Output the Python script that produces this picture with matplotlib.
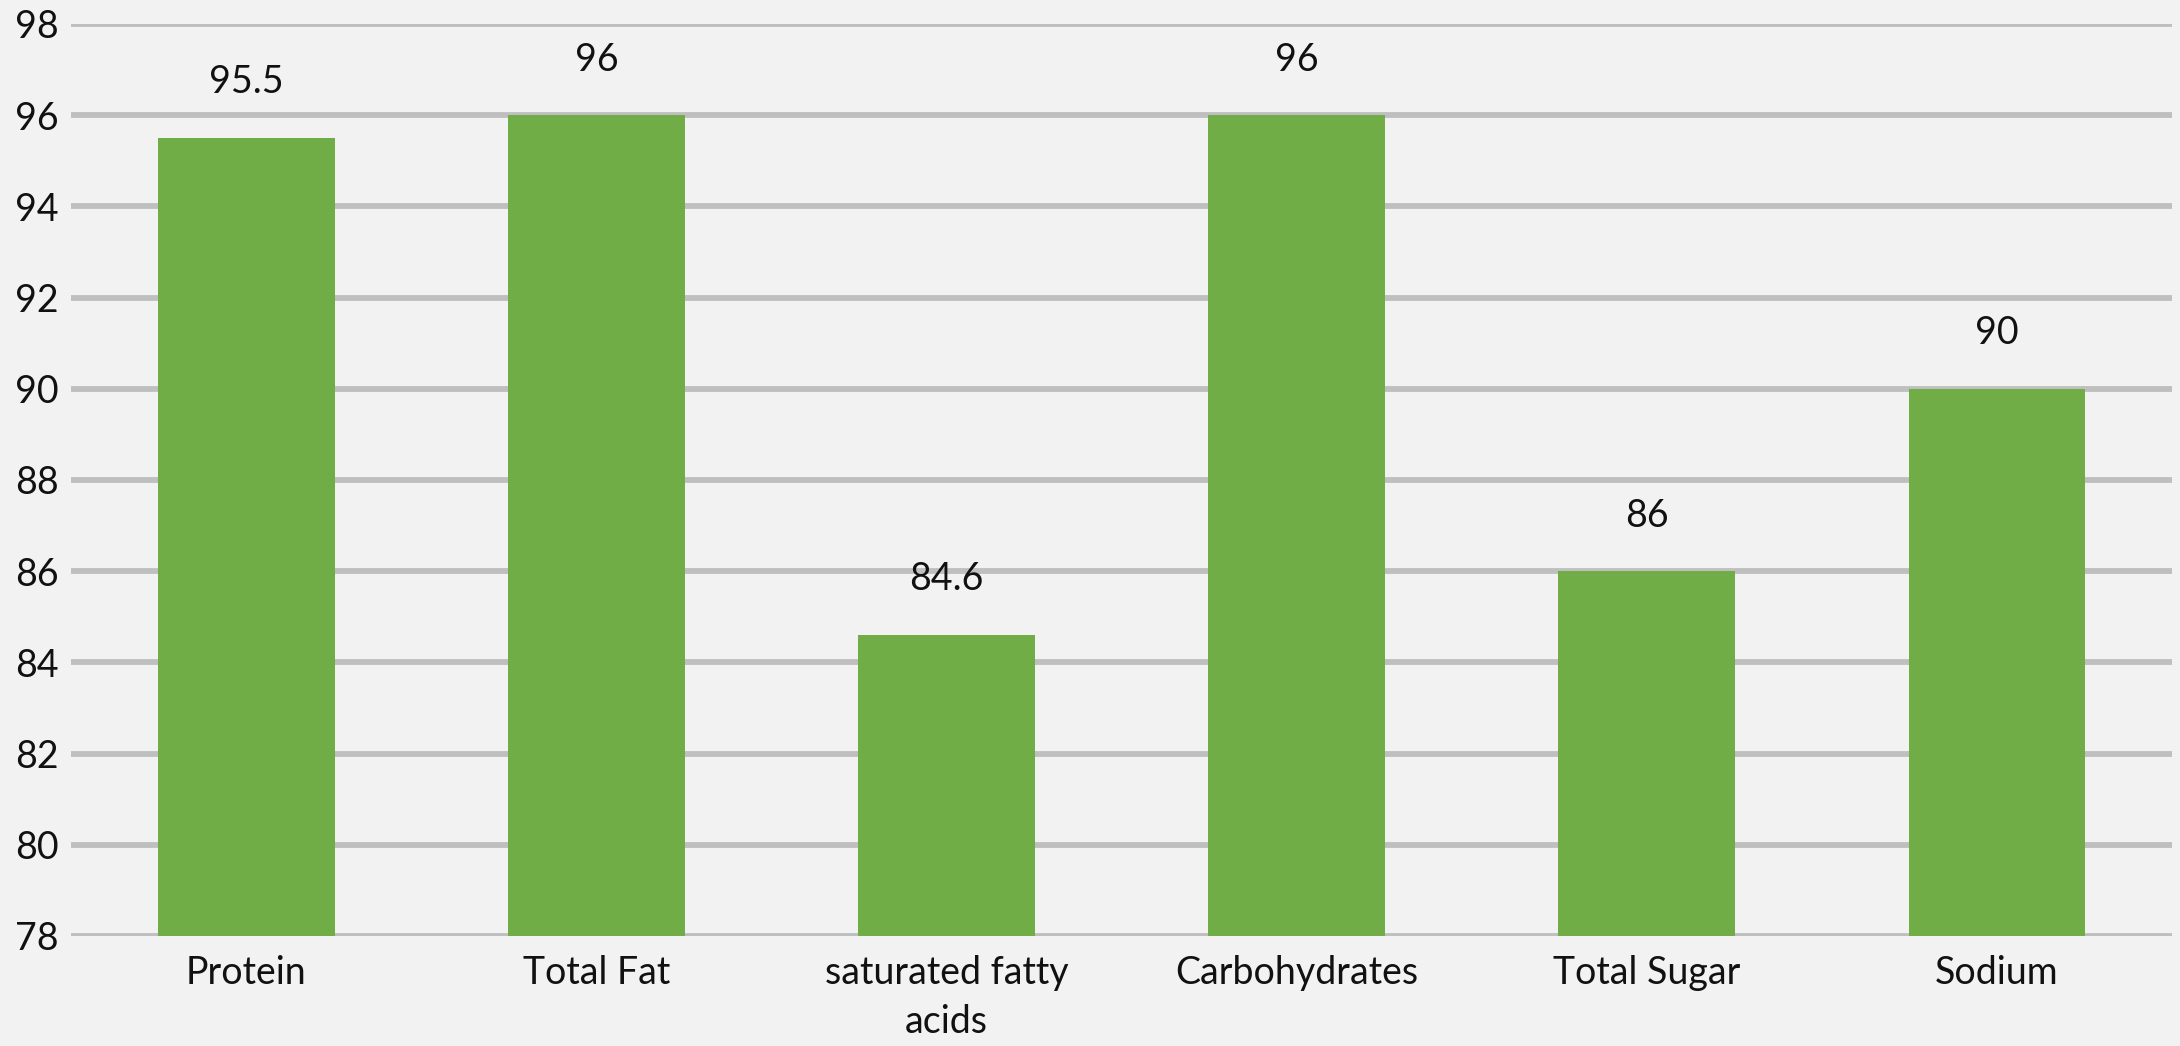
import matplotlib
matplotlib.use('Agg')
import matplotlib.pyplot as plt

categories = ['Protein', 'Total Fat', 'saturated fatty\nacids', 'Carbohydrates', 'Total Sugar', 'Sodium']
values = [95.5, 96, 84.6, 96, 86, 90]
value_labels = ['95.5', '96', '84.6', '96', '86', '90']
y_ticks = [78, 80, 82, 84, 86, 88, 90, 92, 94, 96, 98]

plt.rcParams['font.family'] = ['Lato', 'DejaVu Sans']

bg = '#F2F2F2'
fig = plt.figure(figsize=(21.8, 10.46), dpi=100, facecolor=bg)
ax = fig.add_axes([0.0326, 0.1052, 0.9638, 0.8719], facecolor=bg)

x = list(range(len(categories)))
bars = ax.bar(x, values, width=0.505, bottom=0, color='#70AD47', zorder=3)

ax.set_ylim(78, 98)
ax.set_xlim(-0.5, len(categories) - 0.5)
ax.set_yticks(y_ticks)
ax.set_yticklabels([str(t) for t in y_ticks])
ax.set_xticks(x)
ax.set_xticklabels(categories, linespacing=1.45)

for t in y_ticks:
    ax.axhline(t, color='#BFBFBF', linewidth=4.2, zorder=1)

for xi, v, lab in zip(x, values, value_labels):
    ax.annotate(lab, (xi, v), xytext=(0, 40), textcoords='offset points',
                ha='center', va='center', fontsize=27, color='#111111')

for s in ax.spines.values():
    s.set_visible(False)
ax.tick_params(axis='both', length=0, labelsize=27, colors='#111111')
ax.tick_params(axis='y', pad=9)
ax.tick_params(axis='x', pad=14)

fig.savefig('out.png', dpi=100, facecolor=bg)
